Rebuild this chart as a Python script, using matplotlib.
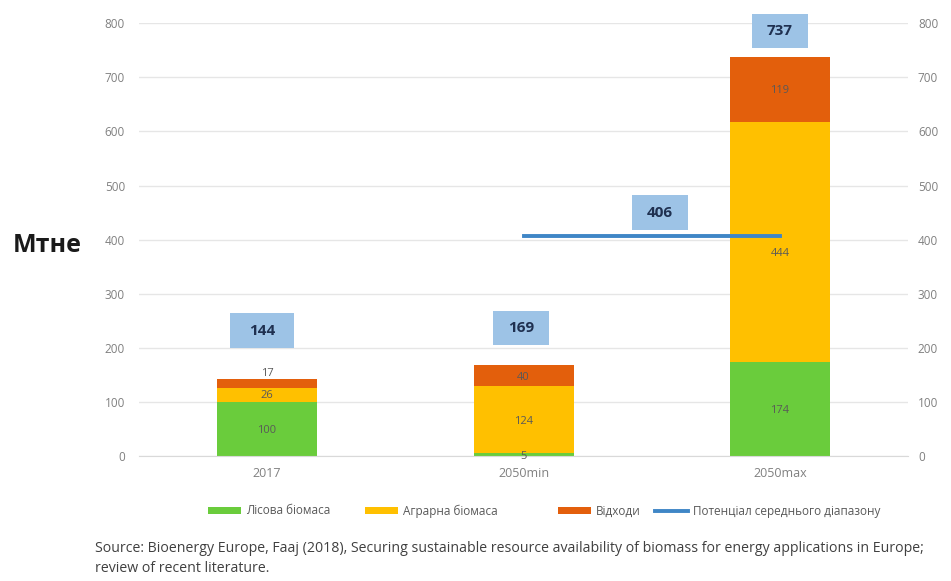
import matplotlib
matplotlib.use("Agg")
import matplotlib.pyplot as plt
from matplotlib.patches import Rectangle
import numpy as np

plt.rcParams['font.family'] = ['Open Sans', 'DejaVu Sans']

# === ДАНІ ===
categories = ["2017", "2050min", "2050max"]
lisova = [100, 5, 174]
agrarna = [26, 124, 444]
vidhody = [17, 40, 119]
totals = [144, 169, 737]
potential = 406
potential_x = [1, 2]
legend_names = ["Лісова біомаса", "Аграрна біомаса", "Відходи", "Потенціал середнього діапазону"]
source_lines = ["Source: Bioenergy Europe, Faaj (2018), Securing sustainable resource availability of biomass for energy applications in Europe;",
                "review of recent literature."]

# розміщення підписів (у координатах даних)
total_box_x = [-0.02, 0.99, 2.0]
total_box_y = [232, 237, 786]
total_box_w = [0.25, 0.215, 0.215]
pot_box = (1.532, 450, 0.215)
box_h = 64
lis_label_y = [48, 0, 85]
agr_label_y = [112, 63, 374]
vid_label_y = [153, 146, 675]

c_green = "#6ACC3C"
c_yellow = "#FFC000"
c_red = "#E35F0C"
c_line = "#3F86C6"
c_box = "#9DC3E6"
c_grid = "#E6E6E6"
c_tick = "#808080"

fig = plt.figure(figsize=(9.51, 5.81), dpi=100)
ax = fig.add_axes([0.146, 0.215, 0.809, 0.745])

x = np.arange(len(categories))
w = 0.39
b1 = ax.bar(x, lisova, w, color=c_green, zorder=2)
b2 = ax.bar(x, agrarna, w, bottom=lisova, color=c_yellow, zorder=2)
bottom3 = [a + b for a, b in zip(lisova, agrarna)]
b3 = ax.bar(x, vidhody, w, bottom=bottom3, color=c_red, zorder=2)
ln, = ax.plot(potential_x, [potential, potential], color=c_line, lw=2.8, zorder=3)

ax.set_ylim(0, 800)
ax.set_xlim(-0.5, 2.5)
ax.set_yticks(range(0, 801, 100))
ax.set_xticks(x)
ax.set_xticklabels(categories)
ax.grid(axis='y', color=c_grid, lw=1, zorder=0)
for s in ax.spines.values():
    s.set_visible(False)
ax.spines['bottom'].set_visible(True)
ax.spines['bottom'].set_color("#D9D9D9")
ax.tick_params(axis='both', length=0, colors=c_tick, labelsize=8.5)
ax.tick_params(axis='x', pad=8, labelsize=9)
ax.tick_params(axis='y', pad=10)

ax2 = ax.twinx()
ax2.set_ylim(0, 800)
ax2.set_yticks(range(0, 801, 100))
ax2.tick_params(axis='y', length=0, colors=c_tick, labelsize=8.5, pad=7)
for s in ax2.spines.values():
    s.set_visible(False)

# підписи сегментів
lab_col = "#595959"
for i in range(len(categories)):
    ax.text(x[i], lis_label_y[i], str(lisova[i]), ha='center', va='center', fontsize=8, color=lab_col, zorder=4)
    ax.text(x[i], agr_label_y[i], str(agrarna[i]), ha='center', va='center', fontsize=8, color=lab_col, zorder=4)
    ax.text(x[i], vid_label_y[i], str(vidhody[i]), ha='center', va='center', fontsize=8, color=lab_col, zorder=4)

# блакитні плашки з сумами
def value_box(cx, cy, bw, txt):
    ax.add_patch(Rectangle((cx - bw / 2, cy - box_h / 2), bw, box_h, fc=c_box, ec='none',
                           zorder=5, clip_on=False))
    ax.text(cx, cy, txt, ha='center', va='center', fontsize=11, fontweight='bold',
            color="#1F3050", zorder=6, clip_on=False)

for i in range(len(categories)):
    value_box(total_box_x[i], total_box_y[i], total_box_w[i], str(totals[i]))
value_box(pot_box[0], pot_box[1], pot_box[2], str(potential))

fig.text(47 / 951, 1 - 246 / 581, "Мтне", ha='center', va='center', fontsize=18,
         fontweight='bold', color="#1A1A1A")

# легенда: кожен елемент окремо, щоб повторити нерівні проміжки
leg_x = [208, 365, 558, 655]
for h, name, lx in zip([b1, b2, b3, ln], legend_names, leg_x):
    leg = fig.legend(handles=[h], labels=[name], loc='center left',
                     bbox_to_anchor=(lx / 951, 1 - 511 / 581), frameon=False, fontsize=8.5,
                     borderpad=0, borderaxespad=0, handlelength=2.8, handleheight=0.5,
                     handletextpad=0.4)
    for t in leg.get_texts():
        t.set_color("#595959")

fig.text(95 / 951, 1 - 548 / 581, source_lines[0], ha='left', va='center', fontsize=10.2, color="#404040")
fig.text(95 / 951, 1 - 568 / 581, source_lines[1], ha='left', va='center', fontsize=10.2, color="#404040")

fig.savefig("out.png", dpi=100)
